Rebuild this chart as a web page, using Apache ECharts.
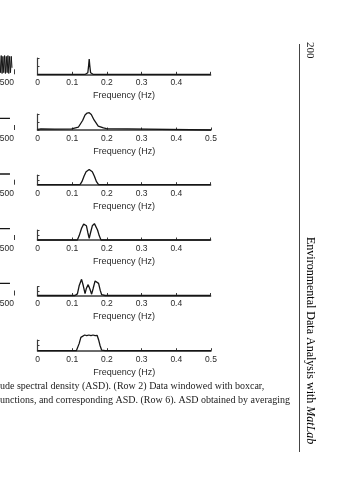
<!DOCTYPE html>
<html><head><meta charset="utf-8">
<script src="https://cdn.jsdelivr.net/npm/echarts@6/dist/echarts.min.js"></script>
<style>html,body{margin:0;padding:0;background:#fff}#c{width:359px;height:480px}</style>
</head><body><div id="c"></div>
<script>
// ---- data ----
const freqName = 'Frequency (Hz)';
const fragTickLabel = '500';
// ASD rows: [frequency (Hz), relative amplitude]
const asdRow1 = [[0,0],[0.138,0],[0.145,0.1],[0.1475,0.6],[0.149,1],[0.1505,0.6],[0.153,0.1],[0.16,0],[0.499,0]];
const asdRow2 = [[0,0.03],[0.01,0.06],[0.05,0.05],[0.0986,0.06],[0.1176,0.16],[0.13,0.55],[0.137,0.87],[0.143,0.98],[0.149,1],[0.155,0.9],[0.163,0.58],[0.175,0.23],[0.19,0.12],[0.199,0.08],[0.261,0.06],[0.265,0],[0.5,0]];
const asdRow3 = [[0,0],[0.1225,0],[0.128,0.2],[0.134,0.55],[0.14,0.85],[0.145,0.98],[0.149,1],[0.153,0.98],[0.158,0.85],[0.164,0.55],[0.17,0.2],[0.176,0],[0.499,0]];
const asdRow4 = [[0,0],[0.1147,0],[0.12,0.25],[0.127,0.7],[0.133,0.95],[0.137,1],[0.141,0.85],[0.145,0.45],[0.149,0.1],[0.153,0.45],[0.158,0.85],[0.164,0.98],[0.168,0.9],[0.173,0.6],[0.178,0.25],[0.183,0],[0.499,0]];
const asdRow5 = [[0,0],[0.074,0],[0.078,0.07],[0.082,0],[0.086,0.07],[0.09,0],[0.095,0.08],[0.1,0],[0.104,0.08],[0.108,0],[0.112,0.05],[0.115,0.1],[0.12,0.6],[0.127,1],[0.132,0.6],[0.137,0.12],[0.141,0.45],[0.146,0.67],[0.151,0.4],[0.156,0.08],[0.16,0.4],[0.166,0.9],[0.171,1],[0.176,0.75],[0.181,0.3],[0.185,0.05],[0.19,0.08],[0.195,0],[0.2,0.08],[0.205,0],[0.21,0.07],[0.215,0],[0.22,0.07],[0.225,0],[0.23,0.06],[0.238,0],[0.499,0]];
const asdRow6 = [[0,0],[0.084,0],[0.088,0.06],[0.092,0],[0.097,0.07],[0.102,0],[0.107,0.06],[0.112,0],[0.115,0.05],[0.12,0.45],[0.125,0.85],[0.13,0.97],[0.136,1],[0.142,0.96],[0.148,1],[0.154,0.96],[0.16,1],[0.166,0.96],[0.172,0.97],[0.176,0.7],[0.18,0.35],[0.185,0.03],[0.19,0.07],[0.195,0],[0.2,0.06],[0.207,0],[0.5,0]];
const asdMax = [0.499, 0.5, 0.499, 0.499, 0.499, 0.5];
// left-column fragments (time series / windows, cut off by the page)
const timeRow1 = [[410,0.5],[414,1.1],[419,0.1],[424,1.15],[429,0.05],[434,1.1],[439,0.1],[444,1.15],[449,0.05],[454,1.1],[459,0.1],[464,1.15],[469,0.05],[474,1.1],[479,0.1],[484,1.1],[488,0.4]];
const winRow2 = [[410,1],[476,1]];
const winRow3 = [[410,1],[476,1]];
const winRow4 = [[410,1],[476,1]];
const winRow5 = [[410,1],[476,1]];
const captionLines = [
  'ude spectral density (ASD). (Row 2) Data windowed with boxcar,',
  'unctions, and corresponding ASD. (Row 6). ASD obtained by averaging'
];
const pageNumber = '200';
const runningHead = 'Environmental Data Analysis with ';
const runningHeadItalic = 'MatLab';

// ---- layout ----
const asdRows = [asdRow1, asdRow2, asdRow3, asdRow4, asdRow5, asdRow6];
const fragRows = [timeRow1, winRow2, winRow3, winRow4, winRow5];
const bottoms = [74.3, 130, 184.7, 240, 295.5, 350.7];
const axisH = [16.3, 16, 9.5, 10, 8.8, 10.7];
const peakH = [15.3, 17.3, 15.3, 16.7, 16.2, 15.7];
const fragH = [16.3, 11.7, 10.7, 11.3, 12.2];
const X0 = 37.5, PXU = 347;
const SANS = '"Liberation Sans", Arial, sans-serif';
const SERIF = '"Liberation Serif", "Times New Roman", serif';
const AX = '#3a3a3a', LN = '#151515', TX = '#2a2a2a';

const grid = [], xAxis = [], yAxis = [], series = [];
asdRows.forEach((d, i) => {
  const maxX = asdMax[i];
  grid.push({left: X0, top: bottoms[i] - axisH[i], width: PXU * maxX, height: axisH[i], outerBoundsMode: 'none', containLabel: false});
  xAxis.push({
    type: 'value', gridIndex: i, min: 0, max: maxX, interval: 0.1,
    name: freqName, nameLocation: 'middle', nameGap: 17,
    nameTextStyle: {fontFamily: SANS, fontSize: 9, color: TX},
    axisLine: {show: true, lineStyle: {color: AX, width: 1.5}},
    axisTick: {show: true, inside: true, length: 2.5, lineStyle: {color: AX, width: 1}},
    axisLabel: {show: true, margin: 4, fontFamily: SANS, fontSize: 8.5, color: TX,
      formatter: v => (Math.abs(v * 10 - Math.round(v * 10)) < 1e-6) ? String(Math.round(v * 10) / 10) : ''},
    splitLine: {show: false}
  });
  const ym = axisH[i] / peakH[i];
  yAxis.push({
    type: 'value', gridIndex: i, min: 0, max: ym, interval: ym / 2,
    axisLine: {show: true, onZero: false, lineStyle: {color: AX, width: 1.2}},
    axisTick: {show: true, inside: true, length: 2, lineStyle: {color: AX, width: 1}},
    axisLabel: {show: false}, splitLine: {show: false}
  });
  series.push({type: 'line', xAxisIndex: i, yAxisIndex: i, data: d, showSymbol: false,
    clip: false, lineStyle: {color: LN, width: 1.3}, animation: false, silent: true});
});
fragRows.forEach((d, k) => {
  const gi = grid.length;
  grid.push({left: -70, top: bottoms[k] - fragH[k], width: 84, height: fragH[k], outerBoundsMode: 'none', containLabel: false});
  xAxis.push({
    type: 'value', gridIndex: gi, min: 0, max: 500, interval: 100,
    axisLine: {show: false},
    axisTick: {show: true, inside: true, length: 5, lineStyle: {color: AX, width: 1}},
    axisLabel: {show: true, margin: 4, fontFamily: SANS, fontSize: 8.5, color: TX, align: 'right',
      formatter: v => (v === 500 ? fragTickLabel : '')},
    splitLine: {show: false}
  });
  yAxis.push({type: 'value', gridIndex: gi, min: 0, max: 1, show: false});
  series.push({type: 'line', xAxisIndex: gi, yAxisIndex: gi, data: d, showSymbol: false,
    clip: false, lineStyle: {color: LN, width: k === 0 ? 1 : 1.3}, animation: false, silent: true});
});

const graphic = [
  {type: 'line', shape: {x1: 299.5, y1: 44, x2: 299.5, y2: 452}, style: {stroke: '#444', lineWidth: 1}},
  {type: 'text', x: 0, y: 386, style: {text: captionLines[0], font: '10px ' + SERIF, fill: '#1a1a1a', textVerticalAlign: 'middle'}},
  {type: 'text', x: 0, y: 400, style: {text: captionLines[1], font: '10px ' + SERIF, fill: '#1a1a1a', textVerticalAlign: 'middle'}},
  {type: 'text', x: 310, y: 42, rotation: -Math.PI / 2,
    style: {text: pageNumber, font: '11px ' + SERIF, fill: '#1a1a1a', textAlign: 'left', textVerticalAlign: 'middle'}},
  {type: 'text', x: 310, y: 237, rotation: -Math.PI / 2,
    style: {text: '{n|' + runningHead + '}{i|' + runningHeadItalic + '}', textAlign: 'left', textVerticalAlign: 'middle',
      rich: {n: {fontFamily: SERIF, fontSize: 12, color: '#1a1a1a'},
             i: {fontFamily: SERIF, fontSize: 12, fontStyle: 'italic', color: '#1a1a1a'}}}}
];

const chart = echarts.init(document.getElementById('c'), null, {renderer: 'canvas'});
chart.setOption({animation: false, backgroundColor: '#fff', grid, xAxis, yAxis, series, graphic});
</script></body></html>
